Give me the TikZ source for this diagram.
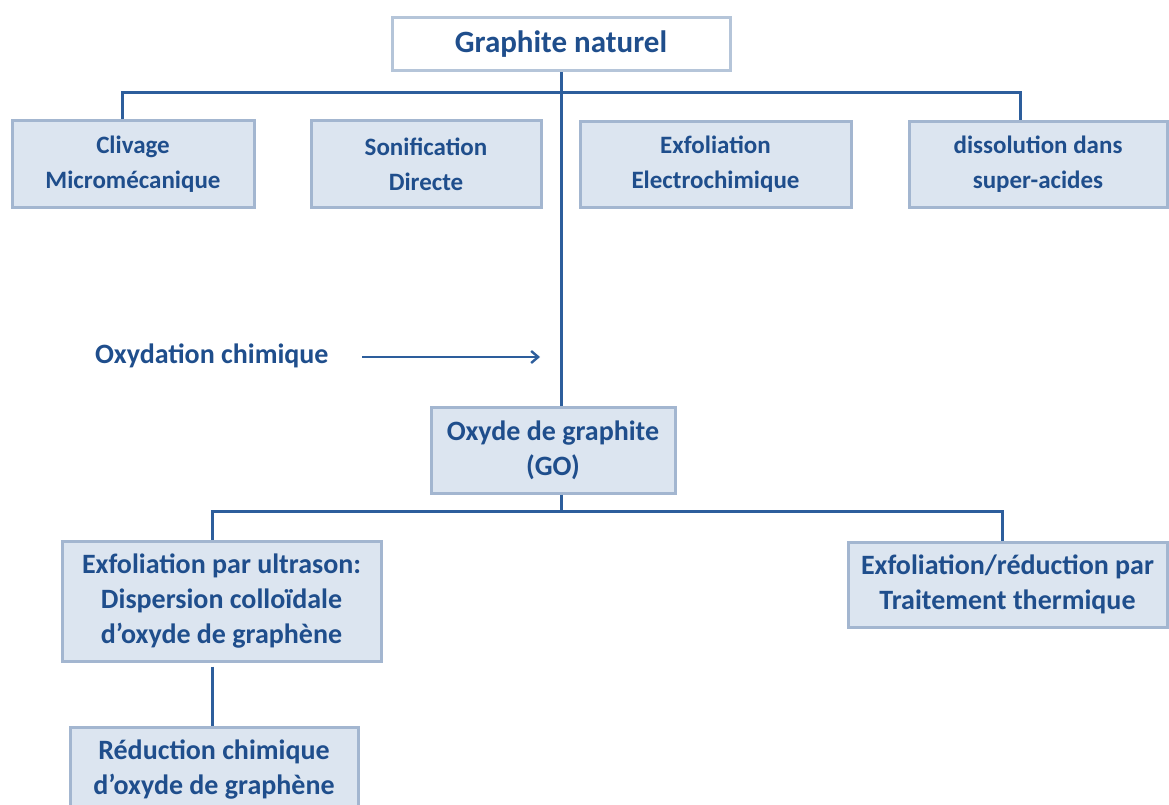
\documentclass[tikz,border=0pt]{standalone}
\usepackage{fontspec}
\setmainfont{Carlito}
\usetikzlibrary{arrows.meta}
\definecolor{boxfill}{HTML}{DCE5F0}
\definecolor{boxline}{HTML}{A3B6D0}
\definecolor{txt}{HTML}{1F4E8C}
\definecolor{conn}{HTML}{2D5E9C}
\tikzset{
  x=1pt, y=-1pt,
  box/.style={draw=boxline, line width=3pt, fill=boxfill, text=txt,
    font=\bfseries\fontsize{28}{35}\selectfont, align=center, inner sep=0pt},
  rowbox/.style={box, font=\bfseries\fontsize{25}{35}\selectfont},
  topbox/.style={box, fill=white, draw=boxline!80, font=\bfseries\fontsize{31}{35}\selectfont},
  wire/.style={draw=conn, line width=3pt},
}
\begin{document}
\begin{tikzpicture}
\useasboundingbox (0,0) rectangle (1169,805);
\clip (0,0) rectangle (1169,805);
\node[topbox, minimum width=338, minimum height=53] (top) at (561,44.5) {Graphite naturel};
\node[rowbox, minimum width=242, minimum height=86] (cliv) at (133,164) {Clivage\\Micromécanique};
\node[rowbox, minimum width=230, minimum height=86] (son) at (426,164) {Sonification\\Directe};
\node[rowbox, minimum width=271, minimum height=85] (elec) at (715.5,164.5) {Exfoliation\\Electrochimique};
\node[rowbox, minimum width=258, minimum height=85] (diss) at (1038,164.5) {dissolution dans\\super-acides};
\node[text=txt, font=\bfseries\fontsize{28}{35}\selectfont, anchor=west, inner sep=0pt] (oxy) at (95,356) {Oxydation chimique};
\node[box, minimum width=244, minimum height=86] (go) at (553,450) {Oxyde de graphite\\(GO)};
\node[box, minimum width=319, minimum height=120] (ultra) at (221.5,601) {Exfoliation par ultrason:\\Dispersion colloïdale\\d’oxyde de graphène};
\node[box, minimum width=319, minimum height=85] (therm) at (1007.5,584.5) {Exfoliation/réduction par\\Traitement thermique};
\node[box, minimum width=288, minimum height=86] (red) at (214,770) {Réduction chimique\\d’oxyde de graphène};
\coordinate (bus1) at (561,93);
\coordinate (bus2) at (561,511);
\coordinate (ar1) at (362,357);
\coordinate (ar2) at (540,357);
% top tree
\draw[wire] (top.south -| bus1) -- (go.north -| bus1);
\draw[wire] (cliv.north -| 122,0) -- (122,93) -- (1020,93) -- (diss.north -| 1020,0);
\draw[wire] (son.north -| 432,0) -- (son.north -| 432,0 |- bus1);
\draw[wire] (elec.north -| 711,0) -- (elec.north -| 711,0 |- bus1);
% arrow
\draw[wire, line width=2.4pt, -{Straight Barb[length=7pt,width=12pt]}] (ar1) -- (ar2);
% lower tree
\draw[wire] (go.south -| bus2) -- (bus2);
\draw[wire] (ultra.north -| 212,0) -- (212,511) -- (1002,511) -- (therm.north -| 1002,0);
\draw[wire] (ultra.south -| 212,0) ++(0,4) -- (red.north -| 212,0);
\end{tikzpicture}
\end{document}
